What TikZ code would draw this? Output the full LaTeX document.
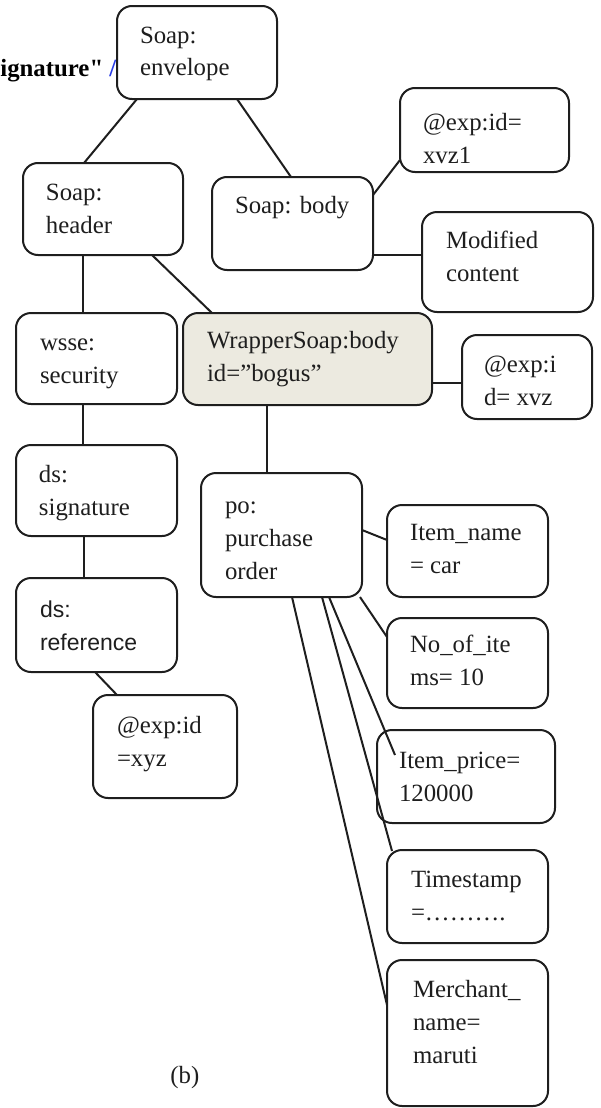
\documentclass[tikz,border=0pt]{standalone}
\usepackage{fontspec}
\setmainfont{Liberation Serif}
\newfontfamily\labelsans{Liberation Sans}
\usetikzlibrary{calc}
\definecolor{wrapfill}{RGB}{236,234,224}
\definecolor{ink}{RGB}{30,30,30}
\definecolor{linkblue}{RGB}{40,60,230}

% box from corner (x1,y1) to corner (x2,y2), in pixel units
\newcommand\bx[6][]{%
  \node[box,#1,minimum width={(#5-#3)*0.5pt},minimum height={(#6-#4)*0.5pt}]
    (#2) at ({(#3+#5)/2},{(#4+#6)/2}) {};}
% text block whose first baseline sits at (x,y)
\newcommand\tx[5][]{%
  \node[txt,#1] (#2) at ({#3},{#4-23.1}) {\strut #5};}

\begin{document}
\begin{tikzpicture}[x=0.5pt,y=-0.5pt,
  box/.style={draw=ink,line width=1pt,rounded corners=7.5pt,fill=white,
              inner sep=0pt,outer sep=0pt},
  txt/.style={anchor=north west,inner sep=0pt,outer sep=0pt,align=left,
              text=ink,font=\fontsize{12.4}{16.5}\selectfont},
  sanstxt/.style={font=\labelsans\fontsize{11.5}{16.5}\selectfont},
  link/.style={draw=ink,line width=1pt}]
\useasboundingbox (0,0) rectangle (600,1108);

% fragment of the preceding line of text, partly hidden by the root box
\node[anchor=base west,inner sep=0pt,font=\fontsize{12.4}{16.5}\selectfont]
  (frag) at (0,76) {\textbf{ignature\textquotedbl} \textcolor{linkblue}{\textbf{/}}};

% boxes
\bx{env}{117}{6}{277}{99}
\bx{hdr}{23}{163}{183}{255}
\bx{body}{212}{177}{373}{270}
\bx{xvza}{400}{88}{569}{172}
\bx{mod}{422}{212}{593}{312}
\bx[fill=wrapfill]{wrap}{183}{313}{432}{405}
\bx{xvz}{462}{335}{592}{419}
\bx{wsse}{16}{313}{177}{404}
\bx{sig}{16}{445}{177}{536}
\bx{ref}{16}{578}{177}{672}
\bx{xyz}{93}{695}{237}{798}
\bx{po}{201}{473}{362}{597}
\bx{iname}{387}{505}{548}{597}
\bx{noi}{387}{618}{548}{708}
\bx{iprice}{377}{730}{555}{823}
\bx{ts}{387}{850}{548}{943}
\bx{merch}{387}{960}{548}{1106}

% box texts
\tx{env-t}{140}{43}{Soap:\\envelope}
\tx{hdr-t}{46}{200}{Soap:\\header}
\tx{body-t}{235}{213}{Soap: body}
\tx{xvza-t}{423}{130}{@exp:id=\\xvz1}
\tx{mod-t}{446}{248}{Modified\\content}
\tx{wrap-t}{207}{348}{WrapperSoap:body\\id=”bogus”}
\tx{xvz-t}{484}{372}{@exp:i\\d= xvz}
\tx{wsse-t}{40}{350}{wsse:\\security}
\tx{sig-t}{39}{482}{ds:\\signature}
\tx[sanstxt]{ref-t}{40}{617}{ds:\\reference}
\tx{xyz-t}{117}{733}{@exp:id\\=xyz}
\tx{po-t}{225}{513}{po:\\purchase\\order}
\tx{iname-t}{410}{540}{Item\_name\\= car}
\tx{noi-t}{410}{652}{No\_of\_ite\\ms= 10}
\tx{iprice-t}{399}{768}{Item\_price=\\120000}
\tx{ts-t}{411}{887}{Timestamp\\=……….}
\tx{merch-t}{413}{997}{Merchant\_\\name=\\maruti}

% caption
\node[anchor=base west,inner sep=0pt,text=ink,font=\fontsize{12.4}{16.5}\selectfont]
  (cap) at (170,1083) {(b)};

% connectors
\draw[link] ($(env.south west)+(20,0)$) -- ($(hdr.north west)+(61,0)$);
\draw[link] ($(env.south west)+(120,0)$) -- ($(body.north west)+(79,0)$);
\draw[link] ($(body.north east)+(0,18)$) -- ($(xvza.south west)+(0,-12)$);
\draw[link] ($(body.north east)+(0,78)$) -- ($(mod.north west)+(0,43)$);
\draw[link] ($(hdr.south west)+(60,0)$) -- ($(wsse.north west)+(67,0)$);
\draw[link] ($(hdr.south west)+(129,0)$) -- ($(wrap.north west)+(29,0)$);
\draw[link] ($(wrap.north east)+(0,70)$) -- ($(xvz.north west)+(0,48)$);
\draw[link] ($(wrap.south west)+(84,0)$) -- ($(po.north west)+(66,0)$);
\draw[link] ($(wsse.south west)+(67,0)$) -- ($(sig.north west)+(67,0)$);
\draw[link] ($(sig.south west)+(68,0)$) -- ($(ref.north west)+(68,0)$);
\draw[link] ($(ref.south west)+(79,0)$) -- ($(xyz.north west)+(24,0)$);
\draw[link] ($(po.north east)+(0,57)$) -- ($(iname.north west)+(0,35)$);
\draw[link] ($(po.south east)+(-2,0)$) -- ($(noi.north west)+(0,19)$);
\draw[link] ($(po.south west)+(128,0)$) -- ($(iprice.north west)+(18,25)$);
\draw[link] ($(po.south west)+(121,0)$) -- ($(ts.north west)+(5,1)$);
\draw[link] ($(po.south west)+(91,0)$) -- ($(merch.north west)+(0,45)$);
\end{tikzpicture}
\end{document}
